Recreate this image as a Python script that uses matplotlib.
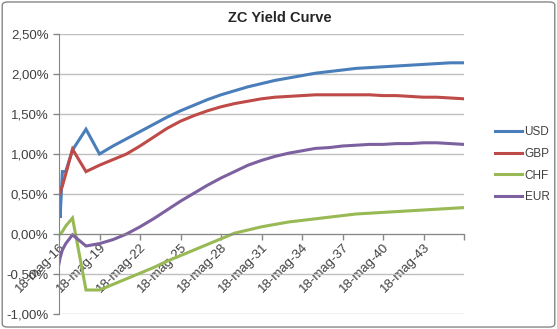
import matplotlib.pyplot as plt
from matplotlib.patches import FancyBboxPatch
from matplotlib.ticker import FuncFormatter

# tenors in years from 18-mag-16
tenors = [0, 0.08, 0.25, 0.5, 1, 2, 3, 4, 5, 6, 7, 8, 9, 10, 11, 12, 13, 14, 15,
          16, 17, 18, 19, 20, 21, 22, 23, 24, 25, 26, 27, 28, 29, 30]

usd = [0.58, 0.20, 0.78, 0.78, 1.05, 1.31, 1.00, 1.10, 1.19, 1.28, 1.37, 1.46, 1.54,
       1.61, 1.68, 1.74, 1.79, 1.84, 1.88, 1.92, 1.95, 1.98, 2.01, 2.03, 2.05, 2.07,
       2.08, 2.09, 2.10, 2.11, 2.12, 2.13, 2.14, 2.14]
gbp = [0.49, 0.52, 0.60, 0.75, 1.06, 0.78, 0.86, 0.93, 1.00, 1.10, 1.21, 1.32, 1.41,
       1.48, 1.54, 1.59, 1.63, 1.66, 1.69, 1.71, 1.72, 1.73, 1.74, 1.74, 1.74, 1.74,
       1.74, 1.73, 1.73, 1.72, 1.71, 1.71, 1.70, 1.69]
chf = [0.00, 0.00, 0.03, 0.10, 0.20, -0.70, -0.70, -0.63, -0.56, -0.49, -0.42, -0.34,
       -0.27, -0.20, -0.13, -0.06, 0.01, 0.05, 0.09, 0.12, 0.15, 0.17, 0.19, 0.21,
       0.23, 0.25, 0.26, 0.27, 0.28, 0.29, 0.30, 0.31, 0.32, 0.33]
eur = [-0.37, -0.30, -0.20, -0.12, -0.01, -0.15, -0.12, -0.07, 0.00, 0.09, 0.19, 0.30,
       0.41, 0.51, 0.61, 0.70, 0.78, 0.86, 0.92, 0.97, 1.01, 1.04, 1.07, 1.08, 1.10,
       1.11, 1.12, 1.12, 1.13, 1.13, 1.14, 1.14, 1.13, 1.12]

series = ['USD', 'GBP', 'CHF', 'EUR']
colors = ['#4A7EBB', '#BE4B48', '#98B954', '#7D60A0']

tick_pos = [0, 3, 6, 9, 12, 15, 18, 21, 24, 27, 30]
tick_labels = ['18-mag-16', '18-mag-19', '18-mag-22', '18-mag-25', '18-mag-28',
               '18-mag-31', '18-mag-34', '18-mag-37', '18-mag-40', '18-mag-43', '']

plt.rcParams['font.family'] = ['Liberation Sans', 'DejaVu Sans']

fig = plt.figure(figsize=(5.57, 3.29), dpi=100)
ax = fig.add_axes([59 / 557, 1 - 314 / 329, 405 / 557, 280 / 329])

for name, vals, c in zip(series, [usd, gbp, chf, eur], colors):
    ax.plot(tenors, vals, color=c, lw=2.2, label=name, solid_joinstyle='miter')

ax.set_xlim(0, 30)
ax.set_ylim(-1.0, 2.5)
ax.set_yticks([-1.0, -0.5, 0, 0.5, 1.0, 1.5, 2.0, 2.5])
ax.yaxis.set_major_formatter(FuncFormatter(lambda v, p: ('%.2f%%' % v).replace('.', ',')))
ax.grid(axis='y', color='#BFBFBF', lw=1)
ax.set_axisbelow(True)

for s in ['top', 'right']:
    ax.spines[s].set_visible(False)
ax.spines['bottom'].set_position(('data', 0))
ax.spines['bottom'].set_color('#868686')
ax.spines['left'].set_color('#868686')
ax.tick_params(axis='both', colors='#868686', labelcolor='#404040', labelsize=9.5, length=4, width=1)
ax.tick_params(axis='x', pad=1)

ax.set_xticks(tick_pos)
ax.set_xticklabels(tick_labels)
for lbl in ax.get_xticklabels():
    lbl.set_rotation(45)
    lbl.set_ha('right')
    lbl.set_va('top')
    lbl.set_rotation_mode('anchor')

fig.text(0.503, 1 - 18 / 329, 'ZC Yield Curve', ha='center', va='center',
         fontsize=10.5, fontweight='bold', color='#262626')

fig.legend(loc='upper left', bbox_to_anchor=(495 / 557, 1 - 126 / 329), frameon=False,
           fontsize=8.5, handlelength=2.3, labelspacing=0.83, borderpad=0,
           borderaxespad=0, handletextpad=0.2, labelcolor='#404040')

fig.patches.append(FancyBboxPatch((0.004, 0.006), 0.992, 0.988, boxstyle='round,pad=0,rounding_size=0.01',
                                  transform=fig.transFigure, fill=False, ec='#868686', lw=1))

fig.savefig('out.png', dpi=100)
